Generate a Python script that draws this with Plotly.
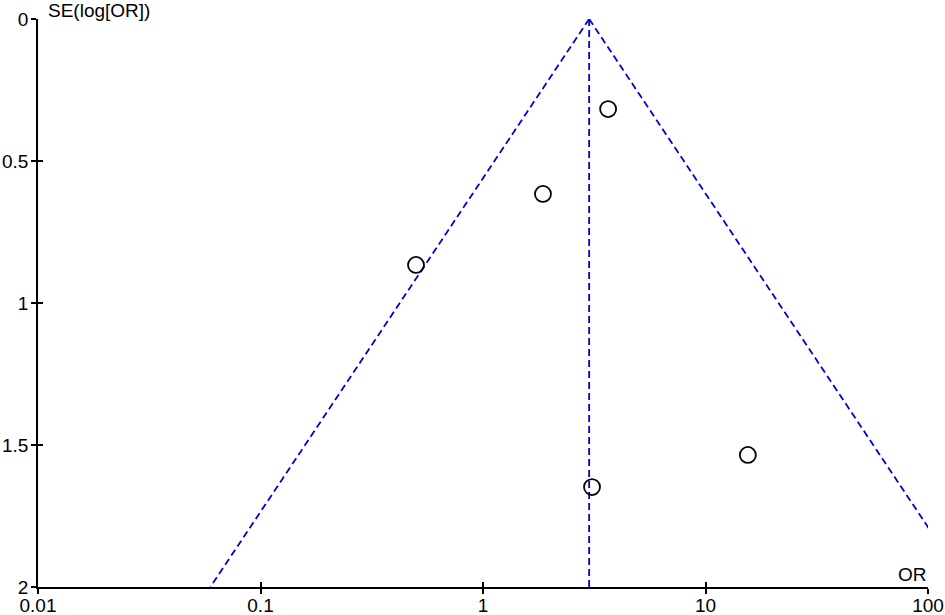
import math
import plotly.graph_objects as go

# Study data (odds ratio, standard error of log OR)
study_or = [3.65, 1.86, 0.50, 15.5, 3.09]
study_se = [0.317, 0.616, 0.866, 1.535, 1.648]

pooled_or = 3.0
z = 1.96
se_levels = [0.0, 2.0]

x_ticks = [0.01, 0.1, 1, 10, 100]
x_tick_labels = ["0.01", "0.1", "1", "10", "100"]
y_ticks = [0, 0.5, 1, 1.5, 2]
y_tick_labels = ["0", "0.5", "1", "1.5", "2"]

lower = [pooled_or * math.exp(-z * s) for s in se_levels]
upper = [pooled_or * math.exp(z * s) for s in se_levels]

fig = go.Figure()
line_style = dict(color="#0000d8", width=1.8, dash="7px,4px")
fig.add_trace(go.Scatter(x=lower, y=se_levels, mode="lines", line=line_style, showlegend=False))
fig.add_trace(go.Scatter(x=upper, y=se_levels, mode="lines", line=line_style, showlegend=False))
fig.add_trace(go.Scatter(x=[pooled_or, pooled_or], y=se_levels, mode="lines", line=line_style, showlegend=False))
fig.add_trace(go.Scatter(
    x=study_or, y=study_se, mode="markers",
    marker=dict(symbol="circle-open", size=16, color="black", line=dict(width=1.8, color="black")),
    showlegend=False,
))
# overlay axes for inner halves of crossing ticks
fig.add_trace(go.Scatter(x=[1], y=[1], xaxis="x2", yaxis="y2", mode="markers",
                         marker=dict(opacity=0), showlegend=False, hoverinfo="skip"))

font = dict(family="Liberation Sans, Arial, sans-serif", size=19, color="black")
common_x = dict(type="log", range=[-2, 2], tickvals=x_ticks, showgrid=False, zeroline=False, automargin=False)
common_y = dict(range=[2, 0], tickvals=y_ticks, showgrid=False, zeroline=False, automargin=False)

fig.update_layout(
    width=945, height=615,
    margin=dict(l=38, r=17, t=19, b=28, autoexpand=False),
    plot_bgcolor="white", paper_bgcolor="white",
    font=font,
    xaxis=dict(**common_x, ticktext=x_tick_labels, showline=True, linecolor="black", linewidth=1.5,
               ticks="outside", ticklen=5, tickwidth=1.5, tickcolor="black", tickfont=font,
               ticklabelstandoff=-5),
    yaxis=dict(**common_y, ticktext=y_tick_labels, showline=True, linecolor="black", linewidth=1.5,
               ticks="outside", ticklen=5, tickwidth=1.5, tickcolor="black", tickfont=font,
               ticklabelstandoff=-1),
    xaxis2=dict(**common_x, overlaying="x", anchor="y2", side="bottom", showticklabels=False,
                ticks="inside", ticklen=5, tickwidth=1.5, tickcolor="black", showline=False),
    yaxis2=dict(**common_y, overlaying="y", anchor="x2", side="left", showticklabels=False,
                ticks="inside", ticklen=5, tickwidth=1.5, tickcolor="black", showline=False),
    annotations=[
        dict(text="SE(log[OR])", xref="paper", yref="paper", x=0, y=1, xanchor="left", yanchor="middle",
             xshift=8, yshift=9, showarrow=False, font=font),
        dict(text="OR", xref="paper", yref="paper", x=1, y=0, xanchor="right", yanchor="bottom",
             xshift=1, yshift=0, showarrow=False, font=font),
    ],
)

# remove the default 8px page margin so the figure fills the window exactly
fig.write_html("out.html", config={"displayModeBar": False},
               post_script="document.body.style.margin='0px';")
